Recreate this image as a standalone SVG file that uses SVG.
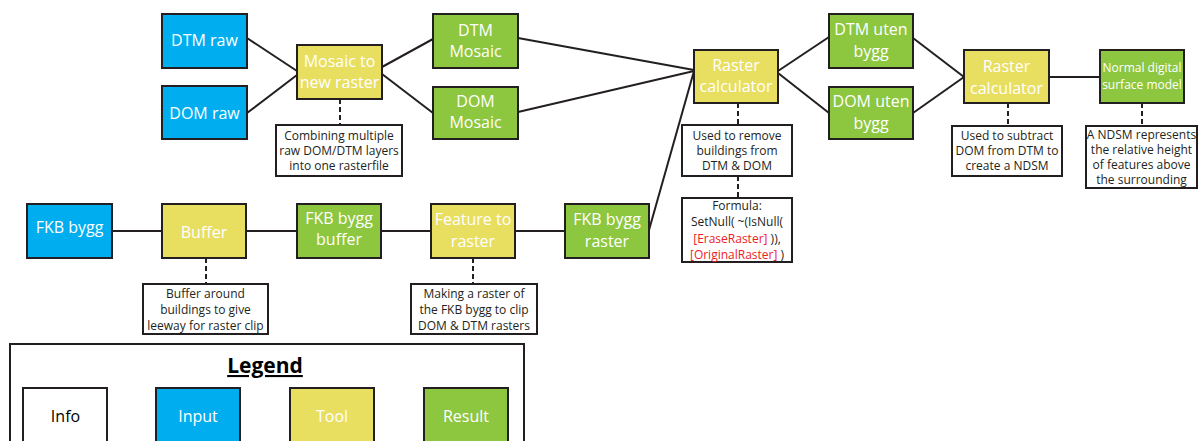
<svg xmlns="http://www.w3.org/2000/svg" width="1200" height="441" viewBox="0 0 1200 441">
<style>
.n{stroke:#231f20;stroke-width:2}
.in{fill:#00aeef}.tl{fill:#e8de60}.rs{fill:#8dc63f}.inf{fill:#fff}
.t{font-family:"Open Sans",sans-serif;font-size:16px;fill:#fff;text-anchor:middle;dominant-baseline:central}
.s{font-family:"Open Sans",sans-serif;font-size:12px;fill:#231f20;text-anchor:middle;dominant-baseline:central}
.r{fill:#ed1c24}
.c{stroke:#231f20;stroke-width:2;fill:none}
.d{stroke:#231f20;stroke-width:2;fill:none;stroke-dasharray:5,3}
</style>
<rect width="1200" height="441" fill="#fff"/>
<g id="connectors">
<line class="c" x1="247" y1="38" x2="297" y2="71"/>
<line class="c" x1="247" y1="113" x2="297" y2="75"/>
<line class="c" x1="382" y1="67" x2="433" y2="39"/>
<line class="c" x1="382" y1="74" x2="433" y2="113"/>
<line class="c" x1="518" y1="38" x2="694" y2="70"/>
<line class="c" x1="518" y1="112" x2="694" y2="71"/>
<line class="c" x1="649" y1="230" x2="694" y2="71"/>
<line class="c" x1="778" y1="71" x2="829" y2="37"/>
<line class="c" x1="778" y1="73" x2="829" y2="113"/>
<line class="c" x1="913" y1="38" x2="964" y2="77"/>
<line class="c" x1="913" y1="113" x2="964" y2="77"/>
<line class="c" x1="1049" y1="77" x2="1100" y2="77"/>
<line class="c" x1="112" y1="231" x2="162" y2="231"/>
<line class="c" x1="246" y1="231" x2="297" y2="231"/>
<line class="c" x1="381" y1="231" x2="431" y2="231"/>
<line class="c" x1="515" y1="231" x2="565" y2="231"/>
<line class="d" x1="340" y1="99" x2="340" y2="125"/>
<line class="d" x1="738" y1="103" x2="738" y2="125"/>
<line class="d" x1="738" y1="176" x2="738" y2="198"/>
<line class="d" x1="1008" y1="103" x2="1008" y2="126"/>
<line class="d" x1="1142" y1="103" x2="1142" y2="126"/>
<line class="d" x1="206" y1="258" x2="206" y2="284"/>
<line class="d" x1="473" y1="258" x2="473" y2="284"/>
</g>
<g id="dtm-raw"><rect class="n in" x="162" y="14" width="85" height="54"/><text class="t" x="204.5" y="40">DTM raw</text></g>
<g id="dom-raw"><rect class="n in" x="162" y="86" width="85" height="53"/><text class="t" x="204.5" y="112.5">DOM raw</text></g>
<g id="mosaic"><rect class="n tl" x="297" y="45" width="85" height="54"/><text class="t" x="339.5" y="61">Mosaic to</text><text class="t" x="339.5" y="82">new raster</text></g>
<g id="info-mosaic"><rect class="n inf" x="276" y="125" width="126" height="51"/><text class="s" x="339" y="135">Combining multiple</text><text class="s" x="339" y="150">raw DOM/DTM layers</text><text class="s" x="339" y="165">into one rasterfile</text></g>
<g id="dtm-mosaic"><rect class="n rs" x="433" y="14" width="85" height="54"/><text class="t" x="475.5" y="30">DTM</text><text class="t" x="475.5" y="51">Mosaic</text></g>
<g id="dom-mosaic"><rect class="n rs" x="433" y="87" width="85" height="52"/><text class="t" x="475.5" y="101">DOM</text><text class="t" x="475.5" y="122">Mosaic</text></g>
<g id="raster-calc-1"><rect class="n tl" x="694" y="50" width="84" height="53"/><text class="t" x="736" y="65">Raster</text><text class="t" x="736" y="86">calculator</text></g>
<g id="info-rc1"><rect class="n inf" x="682" y="125" width="110" height="51"/><text class="s" x="737" y="135">Used to remove</text><text class="s" x="737" y="150">buildings from</text><text class="s" x="737" y="165">DTM &amp; DOM</text></g>
<g id="formula"><rect class="n inf" x="682" y="198" width="110" height="64"/><text class="s" x="737" y="205">Formula:</text><text class="s" x="737" y="221">SetNull( ~(IsNull(</text><text class="s" x="737" y="238"><tspan class="r">[EraseRaster]</tspan> )),</text><text class="s" x="737" y="254"><tspan class="r">[OriginalRaster]</tspan> )</text></g>
<g id="dtm-uten"><rect class="n rs" x="829" y="14" width="84" height="54"/><text class="t" x="871" y="29">DTM uten</text><text class="t" x="871" y="51">bygg</text></g>
<g id="dom-uten"><rect class="n rs" x="829" y="87" width="84" height="52"/><text class="t" x="871" y="101">DOM uten</text><text class="t" x="871" y="123">bygg</text></g>
<g id="raster-calc-2"><rect class="n tl" x="964" y="50" width="85" height="53"/><text class="t" x="1006.5" y="66">Raster</text><text class="t" x="1006.5" y="88">calculator</text></g>
<g id="info-rc2"><rect class="n inf" x="952" y="126" width="110" height="50"/><text class="s" x="1007" y="135">Used to subtract</text><text class="s" x="1007" y="150">DOM from DTM to</text><text class="s" x="1007" y="165">create a NDSM</text></g>
<g id="ndsm"><rect class="n rs" x="1100" y="50" width="84" height="53"/><text class="t" x="1142" y="67" style="font-size:12px">Normal digital</text><text class="t" x="1142" y="84" style="font-size:12px">surface model</text></g>
<g id="info-ndsm"><rect class="n inf" x="1086" y="126" width="111" height="62"/><text class="s" x="1141.5" y="134">A NDSM represents</text><text class="s" x="1141.5" y="149">the relative height</text><text class="s" x="1141.5" y="164">of features above</text><text class="s" x="1141.5" y="179">the surrounding</text></g>
<g id="fkb-bygg"><rect class="n in" x="27" y="204" width="85" height="54"/><text class="t" x="69.5" y="227">FKB bygg</text></g>
<g id="buffer"><rect class="n tl" x="162" y="204" width="84" height="54"/><text class="t" x="204" y="232">Buffer</text></g>
<g id="info-buffer"><rect class="n inf" x="143" y="284" width="125" height="50"/><text class="s" x="205.5" y="293">Buffer around</text><text class="s" x="205.5" y="309">buildings to give</text><text class="s" x="205.5" y="325">leeway for raster clip</text></g>
<g id="fkb-buffer"><rect class="n rs" x="297" y="204" width="84" height="54"/><text class="t" x="339" y="218">FKB bygg</text><text class="t" x="339" y="239">buffer</text></g>
<g id="feature-to-raster"><rect class="n tl" x="431" y="204" width="84" height="54"/><text class="t" x="473" y="219">Feature to</text><text class="t" x="473" y="241">raster</text></g>
<g id="info-feature"><rect class="n inf" x="411" y="284" width="126" height="50"/><text class="s" x="474" y="293">Making a raster of</text><text class="s" x="474" y="309">the FKB bygg to clip</text><text class="s" x="474" y="325">DOM &amp; DTM rasters</text></g>
<g id="fkb-raster"><rect class="n rs" x="565" y="204" width="84" height="54"/><text class="t" x="607" y="219">FKB bygg</text><text class="t" x="607" y="241">raster</text></g>
<g id="legend">
<rect class="n" fill="#fff" x="10" y="344" width="514" height="110"/>
<text x="265" y="373" style="font-family:'Open Sans',sans-serif;font-size:21px;font-weight:bold;fill:#000;text-anchor:middle;text-decoration:underline">Legend</text>
<rect class="n inf" x="23" y="388" width="84" height="56"/><text class="t" x="65.5" y="416" style="fill:#000">Info</text>
<rect class="n in" x="156" y="388" width="84" height="56"/><text class="t" x="198" y="416">Input</text>
<rect class="n tl" x="290" y="388" width="84" height="56"/><text class="t" x="332" y="416">Tool</text>
<rect class="n rs" x="424" y="388" width="84" height="56"/><text class="t" x="466" y="416">Result</text>
</g>
</svg>
